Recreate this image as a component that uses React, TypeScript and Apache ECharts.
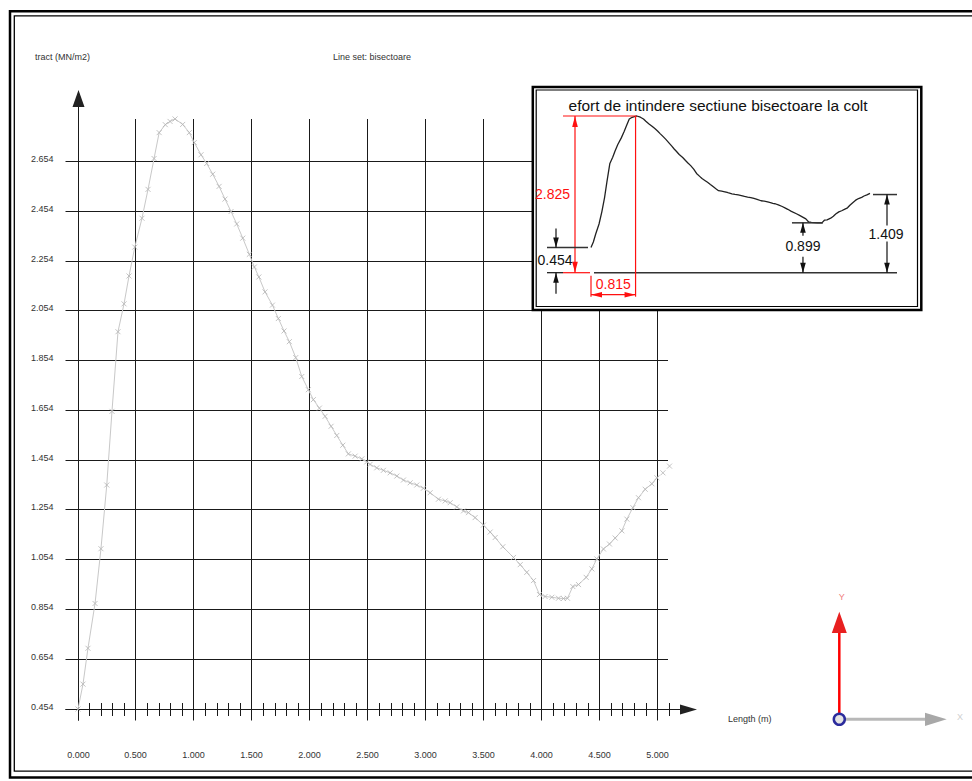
import React, { useEffect, useRef } from "react";
import * as echarts from "echarts";

// ---- data ----
const LENGTH_M = [
  0, 0.043, 0.086, 0.147, 0.198, 0.248, 0.293, 0.345, 0.397, 0.44,
  0.49, 0.552, 0.604, 0.656, 0.7, 0.753, 0.794, 0.837, 0.903, 0.96,
  1.003, 1.061, 1.11, 1.162, 1.217, 1.268, 1.32, 1.369, 1.421, 1.478,
  1.521, 1.56, 1.613, 1.677, 1.728, 1.777, 1.823, 1.878, 1.93, 1.987,
  2.03, 2.082, 2.131, 2.183, 2.232, 2.284, 2.332, 2.39, 2.448, 2.491,
  2.519, 2.577, 2.634, 2.692, 2.75, 2.807, 2.865, 2.922, 2.979, 3.037,
  3.109, 3.167, 3.21, 3.267, 3.325, 3.368, 3.425, 3.497, 3.555, 3.598,
  3.664, 3.756, 3.814, 3.871, 3.929, 3.98, 4.029, 4.087, 4.144, 4.187,
  4.222, 4.268, 4.317, 4.383, 4.432, 4.475, 4.532, 4.584, 4.633, 4.691,
  4.734, 4.786, 4.834, 4.892, 4.95, 4.993, 5.045, 5.102,
];
const TRACT = [
  0.454, 0.554, 0.698, 0.878, 1.098, 1.354, 1.65, 1.97, 2.082, 2.194,
  2.31, 2.426, 2.542, 2.666, 2.77, 2.802, 2.815, 2.825, 2.803, 2.77,
  2.73, 2.681, 2.646, 2.603, 2.554, 2.503, 2.453, 2.403, 2.346, 2.281,
  2.23, 2.19, 2.13, 2.077, 2.023, 1.973, 1.93, 1.866, 1.79, 1.737,
  1.697, 1.663, 1.63, 1.59, 1.553, 1.514, 1.479, 1.47, 1.459, 1.447,
  1.437, 1.423, 1.413, 1.403, 1.39, 1.374, 1.363, 1.354, 1.341, 1.323,
  1.297, 1.29, 1.283, 1.266, 1.25, 1.243, 1.223, 1.193, 1.165, 1.143,
  1.106, 1.063, 1.034, 1.003, 0.97, 0.914, 0.906, 0.903, 0.899, 0.898,
  0.899, 0.946, 0.954, 0.983, 1.017, 1.057, 1.097, 1.117, 1.141, 1.17,
  1.217, 1.263, 1.303, 1.337, 1.359, 1.383, 1.403, 1.43,
];

const X_TICKS = [0, 0.5, 1, 1.5, 2, 2.5, 3, 3.5, 4, 4.5, 5];
const X_TICK_LABELS = ["0.000", "0.500", "1.000", "1.500", "2.000", "2.500", "3.000", "3.500", "4.000", "4.500", "5.000"];
const Y_TICKS = [0.454, 0.654, 0.854, 1.054, 1.254, 1.454, 1.654, 1.854, 2.054, 2.254, 2.454, 2.654];
const Y_TICK_LABELS = ["0.454", "0.654", "0.854", "1.054", "1.254", "1.454", "1.654", "1.854", "2.054", "2.254", "2.454", "2.654"];
const MINOR_TICKS: number[] = [];
for (let k = 1; k <= 51; k++) {
  if (k % 5 !== 0) MINOR_TICKS.push(k / 10);
}

const Y_AXIS_NAME = "tract (MN/m2)";
const X_AXIS_NAME = "Length (m)";
const LINE_SET = "Line set: bisectoare";

// inset annotation values
const INSET_TITLE = "efort de intindere sectiune bisectoare la colt";
const PEAK_X = 0.815;
const PEAK_VALUE = 2.825;
const START_VALUE = 0.454;
const DIP_VALUE = 0.899;
const END_VALUE = 1.409;

const FONT_SMALL = '9px "Liberation Sans", Arial, sans-serif';
const FONT_INSET = '14px "Liberation Sans", Arial, sans-serif';
const AXIS_COLOR = "#1a1a1a";
const RED = "#ff1010";
const BLK = "#111111";

const crisp = (v: number) => Math.round(v - 0.5) + 0.5;

function renderMainAxes(params: any, api: any) {
  const xp = (v: number) => crisp(api.coord([v, Y_TICKS[0]])[0]);
  const yp = (v: number) => crisp(api.coord([X_TICKS[0], v])[1]);
  const x0 = xp(0);
  const yAxisPix = yp(Y_TICKS[0]);
  const xLast = xp(X_TICKS[X_TICKS.length - 1]);
  const yTopTick = yp(Y_TICKS[Y_TICKS.length - 1]);
  const gridTop = yTopTick - 42.5;
  const gridBottom = yAxisPix + 11;
  const gridLeft = x0 - 13;
  const gridRight = xLast + 10.5;
  const ls = { stroke: AXIS_COLOR, lineWidth: 1 };
  const children: any[] = [];
  X_TICKS.forEach((v, i) => {
    const x = xp(v);
    children.push({ type: "line", shape: { x1: x, y1: gridTop, x2: x, y2: gridBottom }, style: ls });
    children.push({
      type: "text", x, y: yAxisPix + 45,
      style: { text: X_TICK_LABELS[i], textAlign: "center", textVerticalAlign: "middle", fill: "#333", font: FONT_SMALL },
    });
  });
  Y_TICKS.forEach((v, i) => {
    const y = yp(v);
    children.push({ type: "line", shape: { x1: gridLeft, y1: y, x2: gridRight, y2: y }, style: ls });
    children.push({
      type: "text", x: x0 - 25, y: y - 3,
      style: { text: Y_TICK_LABELS[i], textAlign: "right", textVerticalAlign: "middle", fill: "#333", font: FONT_SMALL },
    });
  });
  MINOR_TICKS.forEach((v) => {
    const x = xp(v);
    children.push({ type: "line", shape: { x1: x, y1: yAxisPix - 6.5, x2: x, y2: yAxisPix + 6.5 }, style: ls });
  });
  // y axis with arrow
  children.push({ type: "line", shape: { x1: x0, y1: gridBottom, x2: x0, y2: yTopTick - 55 }, style: ls });
  children.push({
    type: "polygon",
    shape: { points: [[x0, yTopTick - 71.5], [x0 - 6, yTopTick - 54.5], [x0 + 6, yTopTick - 54.5]] },
    style: { fill: "#222" },
  });
  // x axis with arrow
  children.push({ type: "line", shape: { x1: gridLeft, y1: yAxisPix, x2: xLast + 23, y2: yAxisPix }, style: ls });
  children.push({
    type: "polygon",
    shape: { points: [[xLast + 39.5, yAxisPix], [xLast + 22.5, yAxisPix - 5], [xLast + 22.5, yAxisPix + 5]] },
    style: { fill: "#222" },
  });
  return { type: "group", children };
}

function arrow(tipX: number, tipY: number, dx: number, dy: number, color: string, len = 11, half = 2.8) {
  const bx = tipX - dx * len;
  const by = tipY - dy * len;
  const px = -dy * half;
  const py = dx * half;
  return {
    type: "polygon",
    shape: { points: [[tipX, tipY], [bx + px, by + py], [bx - px, by - py]] },
    style: { fill: color },
  };
}

function seg(x1: number, y1: number, x2: number, y2: number, color: string, w = 1.2) {
  return { type: "line", shape: { x1, y1, x2, y2 }, style: { stroke: color, lineWidth: w } };
}

function txt(x: number, y: number, text: string, color: string, align = "center") {
  return {
    type: "text", x, y,
    style: { text, fill: color, font: FONT_INSET, textAlign: align, textVerticalAlign: "middle" },
  };
}

function renderInsetAnnotations(params: any, api: any) {
  const [x0, yB] = api.coord([0, 0]);
  const yS = api.coord([0, START_VALUE])[1];
  const [xP, yP] = api.coord([PEAK_X, PEAK_VALUE]);
  let dipIdx = 21;
  TRACT.forEach((v, i) => {
    if (i > 20 && v < TRACT[dipIdx]) dipIdx = i;
  });
  const xD = api.coord([LENGTH_M[dipIdx], 0])[0];
  const yM = api.coord([0, DIP_VALUE])[1];
  const xE = api.coord([LENGTH_M[LENGTH_M.length - 1], 0])[0];
  const yE = api.coord([0, END_VALUE])[1];
  const c: any[] = [];
  // base line
  c.push(seg(x0 - 44, yB, x0 - 28, yB, BLK));
  c.push(seg(x0 - 28, yB, x0 - 1, yB, RED));
  c.push(seg(x0 + 3, yB, xE + 27, yB, "#333", 1.5));
  // 2.825 dimension
  const xDim = x0 - 16;
  c.push(seg(x0 - 28, yP, xP + 1, yP, RED));
  c.push(seg(xDim, yP, xDim, yB, RED));
  c.push(arrow(xDim, yP, 0, -1, RED));
  c.push(arrow(xDim, yB, 0, 1, RED));
  c.push(txt(xDim - 5, (yP + yB) / 2, PEAK_VALUE.toFixed(3), RED, "right"));
  // 0.815 dimension
  const yH = yB + 22;
  c.push(seg(xP, yP, xP, yB + 24, RED));
  c.push(seg(x0, yB + 3, x0, yB + 24, RED));
  c.push(seg(x0, yH, xP, yH, RED));
  c.push(arrow(x0, yH, -1, 0, RED));
  c.push(arrow(xP, yH, 1, 0, RED));
  c.push(txt((x0 + xP) / 2, yB + 11.5, PEAK_X.toFixed(3), RED));
  // 0.454 dimension
  const xa = x0 - 35;
  c.push(seg(x0 - 44, yS, x0 - 3, yS, "#333", 1.5));
  c.push(seg(xa, yS - 19, xa, yS, BLK));
  c.push(arrow(xa, yS, 0, 1, BLK, 10));
  c.push(seg(xa, yB + 21, xa, yB, BLK));
  c.push(arrow(xa, yB, 0, -1, BLK, 10));
  c.push(txt(x0 - 36, (yS + yB) / 2, START_VALUE.toFixed(3), BLK));
  // 0.899 dimension
  const xv = xD - 17;
  c.push(seg(xD - 28, yM, xD + 3, yM, "#333", 1.5));
  c.push(seg(xv, yM, xv, yM + 13, BLK));
  c.push(arrow(xv, yM, 0, -1, BLK, 10));
  c.push(seg(xv, yB - 16, xv, yB, BLK));
  c.push(arrow(xv, yB, 0, 1, BLK, 10));
  c.push(txt(xv, yM + 23.5, DIP_VALUE.toFixed(3), BLK));
  // 1.409 dimension
  const xw = xE + 17;
  c.push(seg(xE + 3, yE, xE + 27, yE, "#333", 1.5));
  c.push(seg(xw, yE, xw, yB, BLK));
  c.push(arrow(xw, yE, 0, -1, BLK, 10));
  c.push(arrow(xw, yB, 0, 1, BLK, 10));
  const ym = (yE + yB) / 2;
  c.push({ type: "rect", shape: { x: xw - 19, y: ym - 8, width: 37, height: 16 }, style: { fill: "#fff" } });
  c.push(txt(xw - 1, ym, END_VALUE.toFixed(3), BLK));
  return { type: "group", children: c };
}

export default function App() {
  const ref = useRef<HTMLDivElement>(null);
  useEffect(() => {
    document.body.style.margin = "0";
    if (!ref.current) return;
    const chart = echarts.init(ref.current, null, { renderer: "svg" });
    const mainData = LENGTH_M.map((x, i) => [x, TRACT[i]]);
    const option: any = {
      animation: false,
      backgroundColor: "#ffffff",
      grid: [
        { left: 78, top: 161.5, width: 579.7, height: 547.5 },
        { left: 591, top: 116, width: 279, height: 156.7 },
      ],
      xAxis: [
        { gridIndex: 0, type: "value", min: X_TICKS[0], max: X_TICKS[X_TICKS.length - 1], show: false },
        { gridIndex: 1, type: "value", min: 0, max: LENGTH_M[LENGTH_M.length - 1], show: false },
      ],
      yAxis: [
        { gridIndex: 0, type: "value", min: Y_TICKS[0], max: Y_TICKS[Y_TICKS.length - 1], show: false },
        { gridIndex: 1, type: "value", min: 0, max: PEAK_VALUE, show: false },
      ],
      series: [
        {
          type: "custom",
          xAxisIndex: 0,
          yAxisIndex: 0,
          silent: true,
          z: 1,
          data: [[0, Y_TICKS[0]]],
          renderItem: renderMainAxes,
        },
        {
          type: "line",
          xAxisIndex: 0,
          yAxisIndex: 0,
          data: mainData,
          clip: false,
          z: 3,
          silent: true,
          showSymbol: true,
          showAllSymbol: true,
          symbol: "path://M0,0L10,10M10,0L0,10",
          symbolSize: 5,
          lineStyle: { color: "#c8c8c8", width: 1 },
          itemStyle: { color: "#b4b4b4", borderColor: "#b4b4b4", borderWidth: 0.8 },
        },
        {
          type: "line",
          xAxisIndex: 1,
          yAxisIndex: 1,
          data: mainData,
          clip: false,
          z: 60,
          silent: true,
          showSymbol: false,
          lineStyle: { color: "#222", width: 1.3 },
        },
        {
          type: "custom",
          xAxisIndex: 1,
          yAxisIndex: 1,
          silent: true,
          z: 61,
          data: [[0, 0]],
          renderItem: renderInsetAnnotations,
        },
      ],
      graphic: [
        // page frame
        { type: "rect", z: 100, silent: true, shape: { x: 10, y: 11.2, width: 1000, height: 766.3 }, style: { fill: "none", stroke: "#000", lineWidth: 2.5 } },
        { type: "rect", z: 100, silent: true, shape: { x: 14.3, y: 15.8, width: 1000, height: 755.4 }, style: { fill: "none", stroke: "#000", lineWidth: 1.3 } },
        // labels
        { type: "text", z: 100, x: 35, y: 57, style: { text: Y_AXIS_NAME, font: FONT_SMALL, fill: "#333", textAlign: "left", textVerticalAlign: "middle" } },
        { type: "text", z: 100, x: 333, y: 57, style: { text: LINE_SET, font: FONT_SMALL, fill: "#333", textAlign: "left", textVerticalAlign: "middle" } },
        { type: "text", z: 100, x: 728, y: 718.5, style: { text: X_AXIS_NAME, font: FONT_SMALL, fill: "#333", textAlign: "left", textVerticalAlign: "middle" } },
        // inset box
        { type: "rect", z: 50, silent: true, shape: { x: 532.8, y: 87, width: 388.5, height: 223 }, style: { fill: "#fff", stroke: "#000", lineWidth: 2.5 } },
        { type: "rect", z: 51, silent: true, shape: { x: 536.2, y: 90, width: 381.3, height: 216.5 }, style: { fill: "none", stroke: "#000", lineWidth: 1.2 } },
        { type: "text", z: 62, x: 718, y: 105, style: { text: INSET_TITLE, font: '15.5px "Liberation Sans", Arial, sans-serif', fill: BLK, textAlign: "center", textVerticalAlign: "middle" } },
        // axis triad
        { type: "line", z: 100, shape: { x1: 845, y1: 719.3, x2: 926, y2: 719.3 }, style: { stroke: "#b8b8b8", lineWidth: 3 } },
        { type: "polygon", z: 100, shape: { points: [[925, 712.7], [946.7, 719.3], [925, 726]] }, style: { fill: "#a8a8a8" } },
        { type: "text", z: 100, x: 960, y: 717, style: { text: "X", font: FONT_SMALL, fill: "#cfcfcf", textAlign: "center", textVerticalAlign: "middle" } },
        { type: "line", z: 100, shape: { x1: 839.3, y1: 632, x2: 839.3, y2: 714 }, style: { stroke: "#ff0000", lineWidth: 2.5 } },
        { type: "polygon", z: 100, shape: { points: [[839.3, 611.7], [831.8, 633], [846.8, 633]] }, style: { fill: "#e82020" } },
        { type: "text", z: 100, x: 841.7, y: 597, style: { text: "Y", font: FONT_SMALL, fill: "#f08080", textAlign: "center", textVerticalAlign: "middle" } },
        { type: "circle", z: 101, shape: { cx: 839.3, cy: 719.3, r: 5.5 }, style: { fill: "#e4e4e4", stroke: "#2b2b9c", lineWidth: 2.5 } },
      ],
    };
    chart.setOption(option);
    return () => chart.dispose();
  }, []);
  return <div ref={ref} style={{ width: 972, height: 781, background: "#fff" }} />;
}
